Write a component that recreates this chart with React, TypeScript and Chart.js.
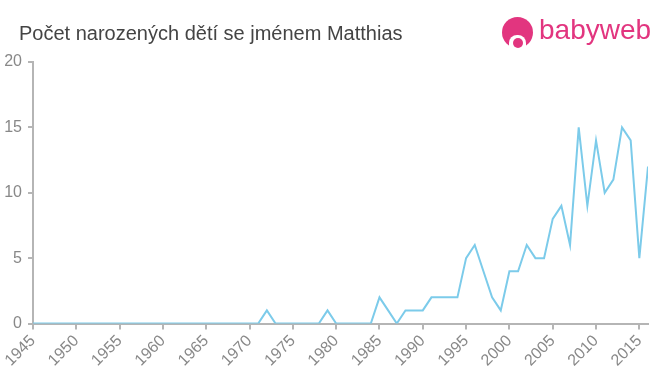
import React, { useEffect, useRef } from "react";
import { Chart, registerables } from "chart.js";

Chart.register(...registerables);

const years = [
  1945, 1946, 1947, 1948, 1949, 1950, 1951, 1952, 1953, 1954, 1955, 1956, 1957, 1958, 1959,
  1960, 1961, 1962, 1963, 1964, 1965, 1966, 1967, 1968, 1969, 1970, 1971, 1972, 1973, 1974,
  1975, 1976, 1977, 1978, 1979, 1980, 1981, 1982, 1983, 1984, 1985, 1986, 1987, 1988, 1989,
  1990, 1991, 1992, 1993, 1994, 1995, 1996, 1997, 1998, 1999, 2000, 2001, 2002, 2003, 2004,
  2005, 2006, 2007, 2008, 2009, 2010, 2011, 2012, 2013, 2014, 2015, 2016,
];

const counts = [
  0, 0, 0, 0, 0, 0, 0, 0, 0, 0, 0, 0, 0, 0, 0,
  0, 0, 0, 0, 0, 0, 0, 0, 0, 0, 0, 0, 1, 0, 0,
  0, 0, 0, 0, 1, 0, 0, 0, 0, 0, 2, 1, 0, 1, 1,
  1, 2, 2, 2, 2, 5, 6, 4, 2, 1, 4, 4, 6, 5, 5,
  8, 9, 6, 15, 9, 14, 10, 11, 15, 14, 5, 12,
];

const xMin = 1945;
const xMax = 2016;
const xStep = 5;
const yMin = 0;
const yMax = 20;
const yStep = 5;

const title = "Počet narozených dětí se jménem Matthias";

export default function App() {
  const ref = useRef<HTMLCanvasElement | null>(null);

  useEffect(() => {
    if (!ref.current) return;
    const axisColor = "#b5b5b5";
    const tickFont = { family: "'Liberation Sans', Arial, sans-serif", size: 16 };
    const chart = new Chart(ref.current, {
      type: "line",
      data: {
        datasets: [
          {
            data: years.map((y, i) => ({ x: y, y: counts[i] })),
            borderColor: "#7ccbea",
            borderWidth: 2,
            pointRadius: 0,
            tension: 0,
            fill: false,
          },
        ],
      },
      options: {
        animation: false,
        responsive: false,
        maintainAspectRatio: false,
        layout: { padding: { left: 0, right: 12, top: 62, bottom: 0 } },
        plugins: { legend: { display: false }, tooltip: { enabled: false }, title: { display: false } },
        scales: {
          x: {
            type: "linear",
            min: xMin,
            max: xMax,
            afterFit: (s: any) => {
              s.height = 51.5;
            },
            ticks: {
              stepSize: xStep,
              includeBounds: false,
              autoSkip: false,
              minRotation: 45,
              maxRotation: 45,
              color: "#888",
              font: tickFont,
              padding: 2,
              callback: (v: any) => String(v),
            },
            grid: { drawOnChartArea: false, drawTicks: true, tickLength: 6, color: axisColor, lineWidth: 2 },
            border: { color: axisColor, width: 2 },
          },
          y: {
            min: yMin,
            max: yMax,
            afterFit: (s: any) => {
              s.width = 33;
            },
            ticks: {
              stepSize: yStep,
              color: "#888",
              font: tickFont,
              padding: 6,
              callback: (v: any) => String(v),
            },
            grid: { drawOnChartArea: false, drawTicks: true, tickLength: 5, color: axisColor, lineWidth: 2 },
            border: { color: axisColor, width: 2 },
          },
        },
      },
    });
    return () => chart.destroy();
  }, []);

  return (
    <div style={{ position: "fixed", left: 0, top: 0, width: 660, height: 375, background: "#fff", overflow: "hidden" }}>
      <canvas ref={ref} width={660} height={375} style={{ position: "absolute", left: 0, top: 0, width: 660, height: 375 }} />
      <div
        style={{
          position: "absolute",
          left: 19,
          top: 23,
          fontFamily: "'Liberation Sans', Arial, sans-serif",
          fontSize: 20,
          lineHeight: "20px",
          color: "#444",
          whiteSpace: "nowrap",
        }}
      >
        {title}
      </div>
      <div style={{ position: "absolute", left: 502, top: 17, width: 31, height: 31 }}>
        <div style={{ position: "absolute", left: 0, top: 0, width: 31, height: 31, borderRadius: "50%", background: "#e2357f" }} />
        <div style={{ position: "absolute", left: 7, top: 18, width: 17, height: 13, borderRadius: "8px 8px 2px 2px", background: "#fff" }} />
        <div style={{ position: "absolute", left: 10.5, top: 21, width: 10, height: 10, borderRadius: "50%", background: "#e2357f" }} />
      </div>
      <div
        style={{
          position: "absolute",
          left: 539,
          top: 16,
          fontFamily: "'Liberation Sans', Arial, sans-serif",
          fontSize: 28,
          lineHeight: "28px",
          color: "#e2357f",
          whiteSpace: "nowrap",
        }}
      >
        babyweb
      </div>
    </div>
  );
}
